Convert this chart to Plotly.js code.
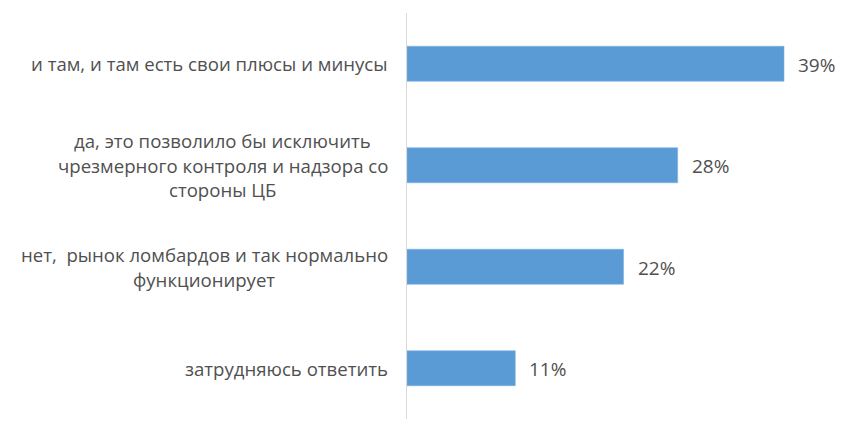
<!DOCTYPE html>
<html>
<head>
<meta charset="utf-8">
<script src="https://cdn.plot.ly/plotly-3.0.1.min.js"></script>
<style>html,body{margin:0;padding:0;background:#fff;}#chart{width:857px;height:448px;}</style>
</head>
<body>
<div id="chart"></div>
<script>
const categories = [
  'и там, и там есть свои плюсы и минусы',
  'да, это позволило бы исключить\nчрезмерного контроля и надзора со\nстороны ЦБ',
  'нет,  рынок ломбардов и так нормально\nфункционирует',
  'затрудняюсь ответить'
];
const values = [39.0, 28.0, 22.4, 11.2];

const FONT = 'Open Sans, Liberation Sans, sans-serif';
const labelSize = 18.6;
const valueSize = 19;
const textColor = '#505050';
const lineH = 24.5;
const labelGap = 19;

const canvas = document.createElement('canvas');
const ctx = canvas.getContext('2d');
ctx.font = labelSize + 'px "Open Sans"';

const annotations = [];
categories.forEach((cat, i) => {
  const lines = cat.split('\n');
  const blockW = Math.max(...lines.map(l => ctx.measureText(l).width));
  lines.forEach((ln, j) => {
    annotations.push({
      xref: 'paper', yref: 'y', x: 0, y: cat,
      xanchor: 'center', yanchor: 'middle',
      xshift: -(labelGap + blockW / 2),
      yshift: ((lines.length - 1) / 2 - j) * lineH,
      text: ln, showarrow: false,
      font: {family: FONT, size: labelSize, color: textColor}
    });
  });
  annotations.push({
    xref: 'x', yref: 'y', x: values[i], y: cat,
    xanchor: 'left', yanchor: 'middle', xshift: 12, yshift: -1,
    text: Math.round(values[i]) + '%', showarrow: false,
    font: {family: FONT, size: valueSize, color: textColor}
  });
});

const trace = {
  type: 'bar', orientation: 'h',
  x: values, y: categories,
  marker: {color: '#5b9bd5', line: {color: '#7eb1e0', width: 0.6}},
  hoverinfo: 'none'
};

const layout = {
  width: 857, height: 448,
  margin: {l: 407, r: 15, t: 13, b: 29, pad: 0},
  paper_bgcolor: '#ffffff', plot_bgcolor: '#ffffff',
  showlegend: false,
  bargap: 0.655,
  xaxis: {range: [0, 45], showgrid: false, zeroline: false, showticklabels: false, showline: false, fixedrange: true},
  yaxis: {autorange: 'reversed', type: 'category', showticklabels: false, showgrid: false, zeroline: false,
          showline: true, linecolor: '#d9d9d9', linewidth: 1.5, ticks: ''},
  annotations: annotations,
  font: {family: FONT, color: textColor}
};

Plotly.newPlot('chart', [trace], layout, {displayModeBar: false, staticPlot: true});
</script>
</body>
</html>
